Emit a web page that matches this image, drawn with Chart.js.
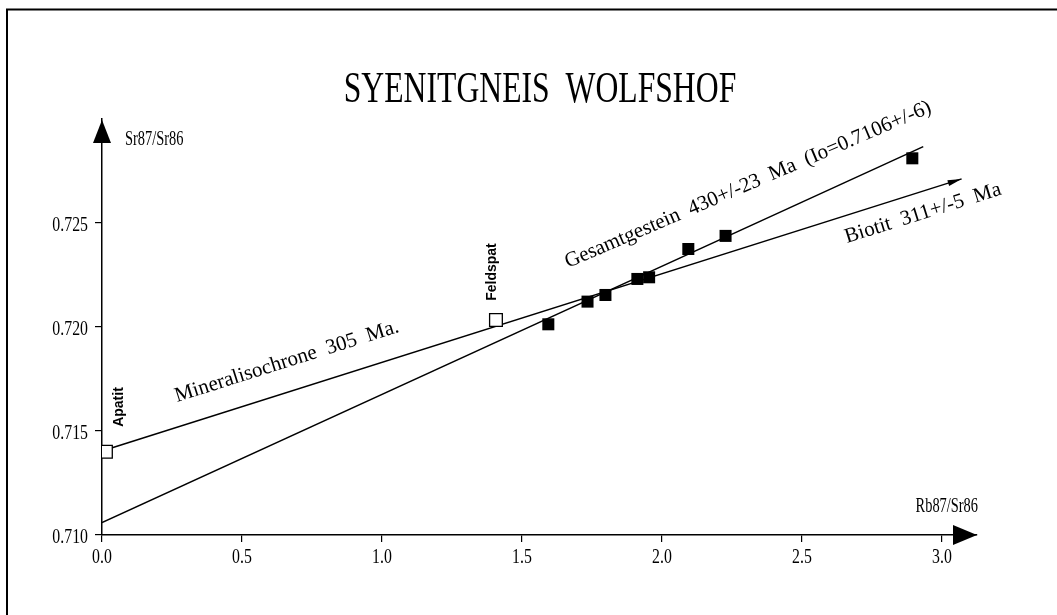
<!DOCTYPE html>
<html>
<head>
<meta charset="utf-8">
<title>Syenitgneis Wolfshof – Rb-Sr Isochronen</title>
<script src="https://cdn.jsdelivr.net/npm/chart.js@4.4.1/dist/chart.umd.min.js"></script>
<style>
  html, body { margin: 0; padding: 0; background: #fff; }
  #wrap { width: 1057px; height: 615px; position: relative; }
</style>
</head>
<body>
<div id="wrap"><canvas id="c" width="1057" height="615"></canvas></div>
<script>
// Gesamtgestein (whole-rock) samples
const wholeRockX = [1.594, 1.734, 1.798, 1.912, 1.954, 2.094, 2.227, 2.894];
const wholeRockY = [0.72013, 0.72122, 0.72154, 0.72231, 0.72239, 0.72375, 0.72438, 0.72811];

// Mineral separates
const mineralNames = ['Apatit', 'Feldspat'];
const mineralX = [0.014, 1.407];
const mineralY = [0.7140, 0.72034];

// Isochron lines (end points)
const wholeRockLineX = [0, 2.933];
const wholeRockLineY = [0.7106, 0.72867];
const mineralLineX = [0.014, 3.07];
const mineralLineY = [0.7141, 0.72712];

// Axis ticks
const xTicks = [0, 0.5, 1.0, 1.5, 2.0, 2.5, 3.0];
const yTicks = [0.710, 0.715, 0.720, 0.725];

const title = 'SYENITGNEIS  WOLFSHOF';
const xTitle = 'Rb87/Sr86';
const yTitle = 'Sr87/Sr86';
const lineLabels = [
  'Mineralisochrone  305  Ma.',
  'Gesamtgestein  430+/-23  Ma  (Io=0.7106+/-6)',
  'Biotit  311+/-5  Ma'
];

const pts = (xs, ys) => xs.map((x, i) => ({ x, y: ys[i] }));

const SERIF = '"Liberation Serif", "Times New Roman", serif';
const SANS = '"Liberation Sans", Arial, sans-serif';
const NARROW = 0.72;

function narrowText(ctx, txt, x, y, size, align) {
  ctx.save();
  ctx.font = size + 'px ' + SERIF;
  ctx.textAlign = align;
  ctx.textBaseline = 'alphabetic';
  ctx.translate(x, y);
  ctx.scale(NARROW, 1);
  ctx.fillText(txt, 0, 0);
  ctx.restore();
}

function rotatedText(ctx, txt, x, y, deg, font, align, baseline) {
  ctx.save();
  ctx.translate(x, y);
  ctx.rotate(deg * Math.PI / 180);
  ctx.font = font;
  ctx.textAlign = align || 'left';
  ctx.textBaseline = baseline || 'alphabetic';
  ctx.fillText(txt, 0, 0);
  ctx.restore();
}

const decorations = {
  id: 'decorations',
  beforeDraw(chart) {
    const ctx = chart.ctx;
    ctx.save();
    ctx.fillStyle = '#fff';
    ctx.fillRect(0, 0, chart.width, chart.height);
    // frame
    ctx.strokeStyle = '#000';
    ctx.lineWidth = 2;
    ctx.beginPath();
    ctx.moveTo(7, 615);
    ctx.lineTo(7, 9.5);
    ctx.lineTo(1057, 9.5);
    ctx.stroke();
    ctx.restore();
  },
  afterDraw(chart) {
    const ctx = chart.ctx;
    const xs = chart.scales.x, ys = chart.scales.y;
    const area = chart.chartArea;
    ctx.save();
    ctx.fillStyle = '#000';
    ctx.strokeStyle = '#000';

    // title
    narrowText(ctx, title, 540, 102, 44, 'center');

    // tick labels
    xs.ticks.forEach(t => {
      narrowText(ctx, t.value.toFixed(1), xs.getPixelForValue(t.value), 563, 22, 'center');
    });
    ys.ticks.forEach(t => {
      narrowText(ctx, t.value.toFixed(3), 88, ys.getPixelForValue(t.value) + 8, 22, 'right');
    });

    // axis titles
    narrowText(ctx, yTitle, 125, 145, 20, 'left');
    narrowText(ctx, xTitle, 978, 512, 20, 'right');

    // axis arrow heads
    const x0 = area.left, yb = area.bottom;
    ctx.beginPath();
    ctx.moveTo(x0, area.top + 1);
    ctx.lineTo(x0 - 9, area.top + 24);
    ctx.lineTo(x0 + 9, area.top + 24);
    ctx.closePath();
    ctx.fill();
    ctx.beginPath();
    ctx.moveTo(area.right, yb);
    ctx.lineTo(area.right - 24, yb - 10);
    ctx.lineTo(area.right - 24, yb + 10);
    ctx.closePath();
    ctx.fill();

    // small arrow at the end of the biotite line
    const n = mineralLineX.length - 1;
    const ax = xs.getPixelForValue(mineralLineX[n]), ay = ys.getPixelForValue(mineralLineY[n]);
    const bx = xs.getPixelForValue(mineralLineX[n - 1]), by = ys.getPixelForValue(mineralLineY[n - 1]);
    const ang = Math.atan2(ay - by, ax - bx);
    ctx.save();
    ctx.translate(ax, ay);
    ctx.rotate(ang);
    ctx.beginPath();
    ctx.moveTo(0, 0);
    ctx.lineTo(-14, -3);
    ctx.lineTo(-14, 3);
    ctx.closePath();
    ctx.fill();
    ctx.restore();

    // sample labels
    const sampleFont = 'bold 14px ' + SANS;
    rotatedText(ctx, mineralNames[0], 119, 407, -90, sampleFont, 'center', 'middle');
    rotatedText(ctx, mineralNames[1], 492, 272, -90, sampleFont, 'center', 'middle');

    // isochron labels
    const lineFont = '21px ' + SERIF;
    rotatedText(ctx, lineLabels[0], 177, 402, -17.5, lineFont);
    rotatedText(ctx, lineLabels[1], 568, 268, -23.2, lineFont);
    rotatedText(ctx, lineLabels[2], 847, 243, -17.4, lineFont);

    ctx.restore();
  }
};

const axisCommon = {
  type: 'linear',
  ticks: { display: false },
  grid: { drawOnChartArea: false, drawTicks: true, tickLength: 7, color: '#000', lineWidth: 1.2 },
  border: { display: true, color: '#000', width: 1.5 }
};

new Chart(document.getElementById('c'), {
  type: 'scatter',
  data: {
    datasets: [
      {
        label: 'Minerale',
        data: pts(mineralX, mineralY),
        pointStyle: 'rect',
        pointRadius: 9,
        backgroundColor: '#fff',
        borderColor: '#000',
        borderWidth: 1.3
      },
      {
        label: 'Gesamtgestein',
        data: pts(wholeRockX, wholeRockY),
        pointStyle: 'rect',
        pointRadius: 8.5,
        backgroundColor: '#000',
        borderColor: '#000',
        borderWidth: 0
      },
      {
        label: 'Gesamtgesteinsisochrone',
        data: pts(wholeRockLineX, wholeRockLineY),
        showLine: true,
        pointRadius: 0,
        borderColor: '#000',
        borderWidth: 1.5
      },
      {
        label: 'Mineralisochrone',
        data: pts(mineralLineX, mineralLineY),
        showLine: true,
        pointRadius: 0,
        borderColor: '#000',
        borderWidth: 1.5
      }
    ]
  },
  options: {
    responsive: false,
    animation: false,
    devicePixelRatio: 1,
    layout: { padding: { left: 0, right: 80, top: 119, bottom: 0 } },
    plugins: { legend: { display: false }, tooltip: { enabled: false } },
    scales: {
      x: Object.assign({}, axisCommon, {
        min: 0, max: 3.125,
        afterBuildTicks: s => { s.ticks = xTicks.map(v => ({ value: v })); },
        afterFit: s => { s.height = 80; }
      }),
      y: Object.assign({}, axisCommon, {
        min: 0.710, max: 0.730,
        afterBuildTicks: s => { s.ticks = yTicks.map(v => ({ value: v })); },
        afterFit: s => { s.width = 102; }
      })
    }
  },
  plugins: [decorations]
});
</script>
</body>
</html>
